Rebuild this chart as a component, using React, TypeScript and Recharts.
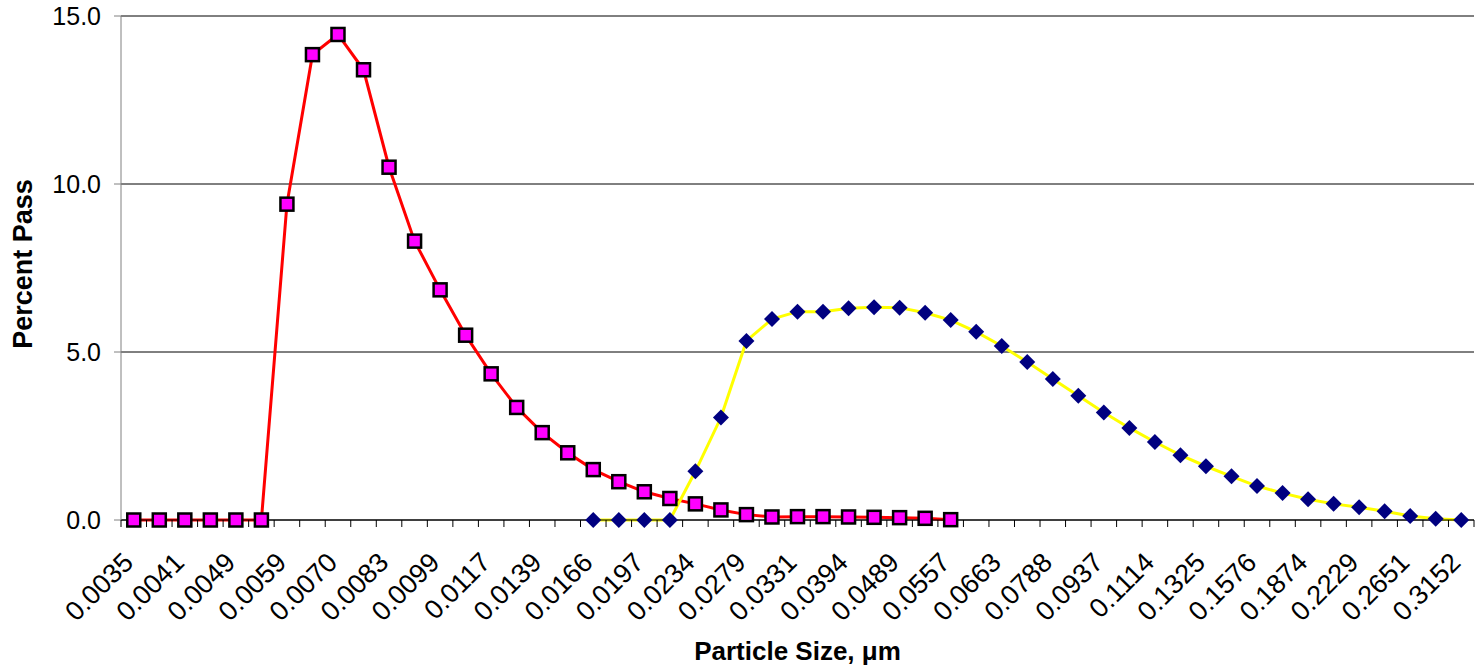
import React from "react";
import { LineChart, Line, XAxis, YAxis, CartesianGrid } from "recharts";

const categories: string[] = [
  "0.0035", "0.0038", "0.0041", "0.0045", "0.0049", "0.0054", "0.0059", "0.0064",
  "0.0070", "0.0076", "0.0083", "0.0091", "0.0099", "0.0108", "0.0117", "0.0128",
  "0.0139", "0.0152", "0.0166", "0.0181", "0.0197", "0.0215", "0.0234", "0.0256",
  "0.0279", "0.0304", "0.0331", "0.0362", "0.0394", "0.0440", "0.0489", "0.0522",
  "0.0557", "0.0608", "0.0663", "0.0723", "0.0788", "0.0859", "0.0937", "0.1022",
  "0.1114", "0.1215", "0.1325", "0.1445", "0.1576", "0.1719", "0.1874", "0.2044",
  "0.2229", "0.2431", "0.2651", "0.2891", "0.3152",
];

// Fine fraction (pink squares), starts at the first category
const fineValues: number[] = [
  0, 0, 0, 0, 0, 0, 9.4, 13.85, 14.45, 13.4, 10.5, 8.3, 6.85, 5.5, 4.35, 3.35,
  2.6, 2.0, 1.5, 1.14, 0.84, 0.64, 0.48, 0.3, 0.16, 0.09, 0.1, 0.1, 0.09, 0.08,
  0.07, 0.05, 0.01,
];

// Coarse fraction (navy diamonds), starts at category "0.0166"
const coarseStart = "0.0166";
const coarseValues: number[] = [
  0, 0, 0, 0, 1.45, 3.05, 5.33, 5.98, 6.2, 6.2, 6.3, 6.33, 6.32, 6.17, 5.95, 5.6,
  5.18, 4.7, 4.2, 3.7, 3.2, 2.74, 2.32, 1.93, 1.6, 1.3, 1.01, 0.8, 0.62, 0.48,
  0.38, 0.26, 0.12, 0.04, 0,
];

const yTicks: number[] = [0, 5, 10, 15];

const WIDTH = 1476;
const HEIGHT = 670;
const MARGIN = { top: 16, right: 2, bottom: 0, left: 0 };
const Y_AXIS_W = 121;
const X_AXIS_H = 150;
const PLOT_W = WIDTH - MARGIN.left - MARGIN.right - Y_AXIS_W;
const BAND = PLOT_W / categories.length;
const FONT = "'Liberation Sans', Arial, sans-serif";

const startIdx = categories.indexOf(coarseStart);
const data = categories.map((c, i) => ({
  size: c,
  fine: i < fineValues.length ? fineValues[i] : null,
  coarse: i >= startIdx && i - startIdx < coarseValues.length ? coarseValues[i - startIdx] : null,
}));

const XTick = (props: any) => {
  const { x, y, payload } = props;
  const i = payload.index;
  const tx = x + 1;
  const ty = y + 44;
  return (
    <g>
      <line x1={x - BAND / 2} x2={x - BAND / 2} y1={y} y2={y + 7} stroke="#000" strokeWidth={1} />
      {i === categories.length - 1 && (
        <line x1={x + BAND / 2} x2={x + BAND / 2} y1={y} y2={y + 7} stroke="#000" strokeWidth={1} />
      )}
      {i % 2 === 0 && (
        <text
          x={tx}
          y={ty}
          transform={`rotate(-45, ${tx}, ${ty})`}
          textAnchor="end"
          fontSize={27}
          fontFamily={FONT}
          fill="#000"
        >
          {payload.value}
        </text>
      )}
    </g>
  );
};

const SquareDot = (props: any) => {
  const { cx, cy, index } = props;
  if (cx == null || cy == null || props.value == null) return <g key={`sq-${index}`} />;
  return (
    <rect
      key={`sq-${index}`}
      x={cx - 6.5}
      y={cy - 6.5}
      width={13}
      height={13}
      fill="#FF00FF"
      stroke="#000"
      strokeWidth={2.5}
    />
  );
};

const DiamondDot = (props: any) => {
  const { cx, cy, index } = props;
  if (cx == null || cy == null || props.value == null) return <g key={`dm-${index}`} />;
  const r = 8;
  return (
    <polygon
      key={`dm-${index}`}
      points={`${cx},${cy - r} ${cx + r},${cy} ${cx},${cy + r} ${cx - r},${cy}`}
      fill="#000080"
    />
  );
};

export default function App() {
  return (
    <div style={{ position: "absolute", left: 0, top: 0, background: "#fff" }}>
      <LineChart width={WIDTH} height={HEIGHT} data={data} margin={MARGIN}>
        <CartesianGrid horizontal={true} vertical={false} stroke="#000" strokeWidth={1} />
        <XAxis
          dataKey="size"
          type="category"
          interval={0}
          height={X_AXIS_H}
          padding={{ left: BAND / 2, right: BAND / 2 }}
          tickSize={0}
          tickMargin={0}
          tickLine={false}
          axisLine={{ stroke: "#000", strokeWidth: 1 }}
          tick={<XTick />}
          label={{
            content: (p: any) => {
              const vb = p.viewBox;
              return (
                <text
                  x={vb.x + vb.width / 2}
                  y={vb.y + 140}
                  textAnchor="middle"
                  fontSize={26}
                  fontWeight="bold"
                  fontFamily={FONT}
                  fill="#000"
                >
                  Particle Size, μm
                </text>
              );
            },
          }}
        />
        <YAxis
          type="number"
          domain={[0, 15]}
          ticks={yTicks}
          width={Y_AXIS_W}
          tickSize={7}
          tickMargin={13}
          tickFormatter={(v: number) => v.toFixed(1)}
          axisLine={{ stroke: "#808080", strokeWidth: 1 }}
          tickLine={{ stroke: "#808080", strokeWidth: 1 }}
          tick={{ fontSize: 25, fontFamily: FONT, fill: "#000" }}
          label={{
            content: (p: any) => {
              const vb = p.viewBox;
              const cx = 32;
              const cy = vb.y + vb.height / 2 - 4;
              return (
                <text
                  x={cx}
                  y={cy}
                  transform={`rotate(-90, ${cx}, ${cy})`}
                  textAnchor="middle"
                  fontSize={27}
                  fontWeight="bold"
                  fontFamily={FONT}
                  fill="#000"
                >
                  Percent Pass
                </text>
              );
            },
          }}
        />
        <Line
          type="linear"
          dataKey="fine"
          stroke="#FF0000"
          strokeWidth={3}
          dot={SquareDot}
          activeDot={false}
          isAnimationActive={false}
        />
        <Line
          type="linear"
          dataKey="coarse"
          stroke="#FFFF00"
          strokeWidth={3}
          dot={DiamondDot}
          activeDot={false}
          isAnimationActive={false}
        />
      </LineChart>
    </div>
  );
}
